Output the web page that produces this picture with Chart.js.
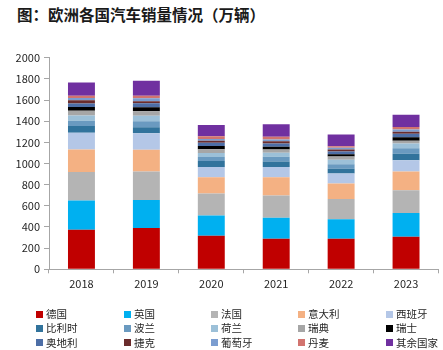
<!DOCTYPE html>
<html><head><meta charset="utf-8">
<script src="https://cdn.jsdelivr.net/npm/chart.js@4.4.1/dist/chart.umd.min.js"></script>
<style>
html,body{margin:0;padding:0;background:#fff;}
#wrap{position:relative;width:443px;height:350px;overflow:hidden;font-family:"Noto Sans CJK SC","Noto Sans",sans-serif;}
#title{position:absolute;left:17px;top:3px;font-size:15.5px;font-weight:bold;color:#1a1a1a;white-space:nowrap;line-height:22px;}
canvas{position:absolute;left:0;top:0;}
.lg{position:absolute;font-size:10.5px;color:#262626;white-space:nowrap;line-height:14px;height:14px;padding-left:10px;}
.lg i{position:absolute;left:0;top:3.5px;width:7px;height:7px;}
</style></head>
<body><div id="wrap">
<div id="title">图：欧洲各国汽车销量情况（万辆）</div>
<canvas id="c" width="443" height="350"></canvas>
<div id="legend"></div>
</div>
<script>
const years = ['2018','2019','2020','2021','2022','2023'];
const yTicks = [0,200,400,600,800,1000,1200,1400,1600,1800,2000];
const seriesNames = ['德国','英国','法国','意大利','西班牙','比利时','波兰','荷兰','瑞典','瑞士','奥地利','捷克','葡萄牙','丹麦','其余国家'];
const germany   = [375, 390, 317, 289, 289, 308];
const uk        = [275, 264, 192, 198, 183, 223];
const france    = [269, 270, 207, 211, 192, 217];
const italy     = [214, 207, 154, 172, 148, 176];
const spain     = [158, 154, 97, 98, 94, 107];
const belgium   = [64, 57, 57, 52, 44, 60];
const poland    = [48, 57, 38, 44, 44, 53];
const netherlands = [50, 53, 38, 38, 41, 44];
const sweden    = [45, 41, 35, 31, 31, 28];
const switzerland = [35, 38, 31, 25, 22, 31];
const austria   = [35, 38, 31, 32, 25, 35];
const czech     = [30, 19, 19, 20, 20, 18];
const portugal  = [20, 28, 16, 18, 15, 22];
const denmark   = [22, 25, 25, 24, 15, 22];
const others    = [125, 141, 107, 120, 112, 116];
const seriesValues = [germany, uk, france, italy, spain, belgium, poland, netherlands, sweden, switzerland, austria, czech, portugal, denmark, others];
const colors = ['#C00000','#00B0F0','#B4B4B4','#F4B183','#B4C7E7','#31739C','#6A9AC0','#9CC0D8','#A6A6A6','#000000','#4D6EA6','#6A2C2C','#7B9DD0','#D2746F','#7030A0'];

const datasets = seriesNames.map((n,i)=>({
  label:n, data:seriesValues[i], backgroundColor:colors[i], borderWidth:0,
  barPercentage:0.415, categoryPercentage:1.0, stack:'s'
}));

const fontFam = '"Noto Sans CJK SC","Noto Sans",sans-serif';
new Chart(document.getElementById('c').getContext('2d'), {
  type:'bar',
  data:{labels:years, datasets},
  options:{
    responsive:false, animation:false,
    layout:{padding:{left:0,right:4.5,top:57.7,bottom:0}},
    plugins:{legend:{display:false}, tooltip:{enabled:false}},
    scales:{
      x:{stacked:true,
         grid:{display:true, offset:true, drawOnChartArea:false, drawTicks:true, tickLength:4, color:'#a6a6a6'},
         border:{color:'#a6a6a6', width:1},
         ticks:{font:{size:11, family:fontFam}, color:'#262626', padding:4},
         afterFit(s){s.height=80.7;}},
      y:{stacked:true, min:0, max:2000,
         afterBuildTicks(s){s.ticks = yTicks.map(v=>({value:v}));},
         ticks:{font:{size:11, family:fontFam}, color:'#262626', padding:4, callback:(v)=>String(v)},
         grid:{drawOnChartArea:false, tickLength:5, color:'#a6a6a6'},
         border:{color:'#a6a6a6', width:1},
         afterFit(s){s.width=49;}}
    }
  }
});

const lgX = [36,124,211,298,386];
const lgY = [314.3,328.3,342.7];
const lg = document.getElementById('legend');
seriesNames.forEach((n,i)=>{
  const d = document.createElement('div');
  d.className='lg';
  d.style.left = lgX[i%5]+'px';
  d.style.top = (lgY[Math.floor(i/5)]-7)+'px';
  d.innerHTML = '<i style="background:'+colors[i]+'"></i>'+n;
  lg.appendChild(d);
});
</script>
</body></html>
